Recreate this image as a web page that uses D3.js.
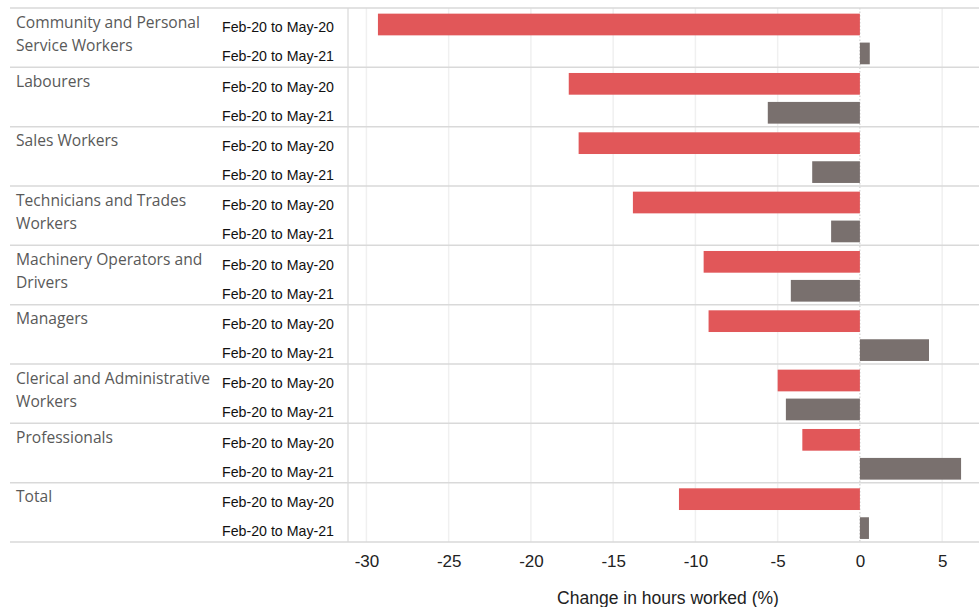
<!DOCTYPE html>
<meta charset="utf-8">
<head>
  <title>Change in hours worked by occupation</title>
</head>

<style>
body {
  margin: 0;
  background: #fff;
}
.cat { font-family: "Open Sans", sans-serif; font-size: 15.6px; fill: #595959; }
.sub { font-family: "Liberation Sans", Arial, sans-serif; font-size: 14.2px; fill: #111; }
.tick text { font-family: "Liberation Sans", Arial, sans-serif; font-size: 17px; fill: #222; }
.title { font-family: "Liberation Sans", Arial, sans-serif; font-size: 17.5px; fill: #222; }
</style>

<body>
  <div id="content">
    <svg width="979" height="607"></svg>
  </div>

  <script src="https://cdnjs.cloudflare.com/ajax/libs/d3/7.8.5/d3.min.js"></script>

  <script>
// occupation groups, top to bottom (\n marks the line break used in the picture)
var categories = [
  'Community and Personal\nService Workers',
  'Labourers',
  'Sales Workers',
  'Technicians and Trades\nWorkers',
  'Machinery Operators and\nDrivers',
  'Managers',
  'Clerical and Administrative\nWorkers',
  'Professionals',
  'Total'
];

var periods = ['Feb-20 to May-20', 'Feb-20 to May-21'];

// % change in hours worked
var may20 = [-29.3, -17.7, -17.1, -13.8, -9.5, -9.2, -5.0, -3.5, -11.0];
var may21 = [0.6, -5.6, -2.9, -1.75, -4.2, 4.2, -4.5, 6.15, 0.55];

var xTicks = [-30, -25, -20, -15, -10, -5, 0, 5];
var colours = ['#E15759', '#79706E'];

var svg = d3.select('svg');

var plotTop = 8, plotBottom = 542, plotLeft = 348, plotRight = 979;

var x = d3.scaleLinear()
  .domain([-31.12, 7.24])
  .range([plotLeft, plotRight]);

var y = d3.scaleBand()
  .domain(categories)
  .range([plotTop, plotBottom]);

var ySub = d3.scaleBand()
  .domain(periods)
  .range([0, y.bandwidth()])
  .paddingInner(0.25)
  .paddingOuter(0.15)
  .align(0.65);

// light vertical gridlines
svg.append('g')
  .selectAll('line')
  .data(xTicks.filter(function(d) { return d !== 0; }))
  .enter().append('line')
  .attr('x1', function(d) { return x(d); })
  .attr('x2', function(d) { return x(d); })
  .attr('y1', plotTop)
  .attr('y2', plotBottom)
  .attr('stroke', '#f0f0f0')
  .attr('stroke-width', 1.5);

// zero line
svg.append('line')
  .attr('x1', x(0)).attr('x2', x(0))
  .attr('y1', plotTop).attr('y2', plotBottom)
  .attr('stroke', '#c8c8c8')
  .attr('stroke-dasharray', '1.5,2');

var rows = [];
categories.forEach(function(c, i) {
  rows.push({cat: c, period: periods[0], value: may20[i], k: 0});
  rows.push({cat: c, period: periods[1], value: may21[i], k: 1});
});

// bars
svg.append('g')
  .selectAll('rect')
  .data(rows)
  .enter().append('rect')
  .attr('x', function(d) { return x(Math.min(0, d.value)); })
  .attr('width', function(d) { return Math.abs(x(d.value) - x(0)); })
  .attr('y', function(d) { return y(d.cat) + ySub(d.period); })
  .attr('height', ySub.bandwidth())
  .attr('fill', function(d) { return colours[d.k]; });

// row separators
svg.append('g')
  .selectAll('line')
  .data(categories.map(function(c) { return y(c); }).concat([plotBottom]))
  .enter().append('line')
  .attr('x1', 10)
  .attr('x2', plotRight)
  .attr('y1', function(d) { return d; })
  .attr('y2', function(d) { return d; })
  .attr('stroke', '#d9d9d9')
  .attr('stroke-width', 1.5);

// left edge of plot
svg.append('line')
  .attr('x1', plotLeft).attr('x2', plotLeft)
  .attr('y1', plotTop).attr('y2', plotBottom)
  .attr('stroke', '#d9d9d9')
  .attr('stroke-width', 1.2);

// category labels
svg.append('g')
  .selectAll('text')
  .data(categories)
  .enter().append('text')
  .attr('class', 'cat')
  .attr('x', 16)
  .attr('y', function(d) { return y(d) + 19.5; })
  .each(function(d) {
    var lines = d.split('\n');
    var t = d3.select(this);
    lines.forEach(function(l, i) {
      t.append('tspan').attr('x', 16).attr('dy', i ? 23 : 0).text(l);
    });
  });

// period labels
svg.append('g')
  .selectAll('text')
  .data(rows)
  .enter().append('text')
  .attr('class', 'sub')
  .attr('x', 222)
  .attr('y', function(d) { return y(d.cat) + ySub(d.period) + ySub.bandwidth() / 2 + 8; })
  .text(function(d) { return d.period; });

// x axis
var xAxis = d3.axisBottom(x)
  .tickValues(xTicks)
  .tickSize(0)
  .tickPadding(13)
  .tickFormat(d3.format('d'));

var gx = svg.append('g')
  .attr('transform', 'translate(0,' + plotBottom + ')')
  .call(xAxis);
gx.select('.domain').remove();
gx.selectAll('.tick text').text(function(d) { return d < 0 ? '-' + Math.abs(d) : d; });

svg.append('text')
  .attr('class', 'title')
  .attr('x', 668)
  .attr('y', 604)
  .attr('text-anchor', 'middle')
  .text('Change in hours worked (%)');
  </script>
</body>
</html>
